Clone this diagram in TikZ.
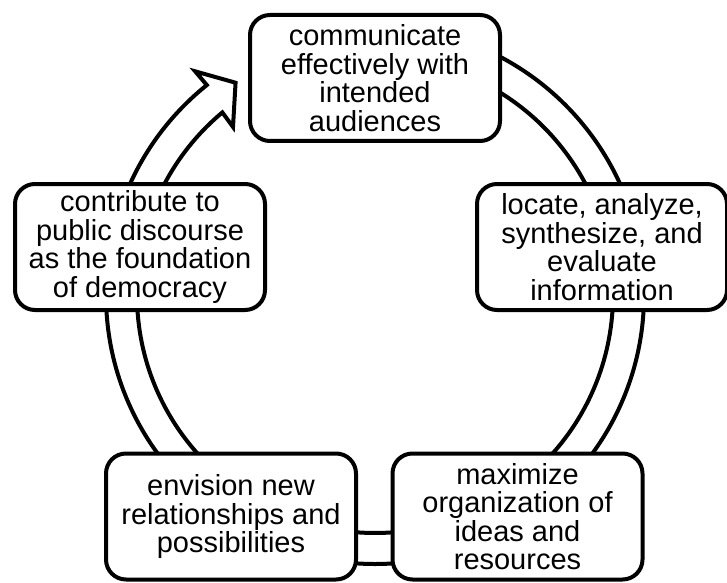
\documentclass[tikz,border=0pt]{standalone}
\usepackage{fontspec}
\setmainfont{Liberation Sans}
\begin{document}
\begin{tikzpicture}[x=1pt, y=1pt, line width=4pt,
        stage/.style={draw, fill=white, rounded corners=20pt, minimum width=250pt, minimum height=126pt,
            align=center, inner sep=0pt, font=\fontsize{29}{28.5}\selectfont}]
                \useasboundingbox (0,0) rectangle (727,582);
                \coordinate (hub) at (375,287);

                \draw[line join=miter] ([shift={(90:269)}]hub) arc[start angle=90, end angle=-231.3, radius=269]
                    -- ([shift={(-231.2:287)}]hub) -- ([shift={(-236.7:254)}]hub) -- ([shift={(-229.8:220)}]hub)
                    -- ([shift={(-230.1:238)}]hub) arc[start angle=-230.1, end angle=90, radius=238] -- cycle;

                \node[stage] (comm) at (375,504) {communicate\\effectively with\\intended\\audiences};
                \node[stage] (locate) at (602,335) {locate, analyze,\\synthesize, and\\evaluate\\information};
                \node[stage] (maxim) at (517.5,65.5) {maximize\\organization of\\ideas and\\resources};
                \node[stage] (envis) at (231,65.5) {envision new\\relationships and\\possibilities};
                \node[stage] (contrib) at (140,335) {contribute to\\public discourse\\as the foundation\\of democracy};
\end{tikzpicture}
\end{document}
